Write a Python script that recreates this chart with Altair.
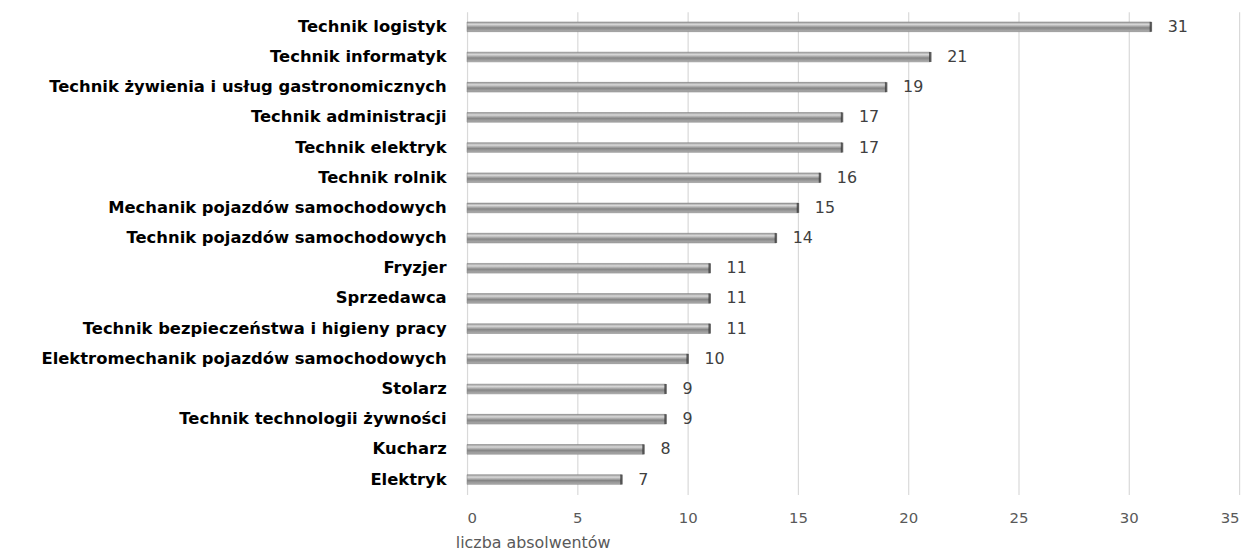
import altair as alt
import pandas as pd

categories = [
    "Technik logistyk",
    "Technik informatyk",
    "Technik żywienia i usług gastronomicznych",
    "Technik administracji ",
    "Technik elektryk",
    "Technik rolnik",
    "Mechanik pojazdów samochodowych",
    "Technik pojazdów samochodowych",
    "Fryzjer",
    "Sprzedawca",
    "Technik bezpieczeństwa i higieny pracy",
    "Elektromechanik pojazdów samochodowych",
    "Stolarz",
    "Technik technologii żywności",
    "Kucharz",
    "Elektryk",
]
values = [31, 21, 19, 17, 17, 16, 15, 14, 11, 11, 11, 10, 9, 9, 8, 7]
x_ticks = [0, 5, 10, 15, 20, 25, 30, 35]

df = pd.DataFrame({"zawod": categories, "liczba": values})

FONT = "DejaVu Sans"

y_enc = alt.Y("zawod:N", sort=categories, title=None,
              scale=alt.Scale(paddingInner=0.68, paddingOuter=0.34),
              axis=alt.Axis(labelFont=FONT, labelFontWeight="bold",
                            labelFontSize=16.5, labelColor="#000000",
                            labelLimit=600, labelPadding=21, ticks=False,
                            domain=False, grid=False))
x_enc = alt.X("liczba:Q", scale=alt.Scale(domain=[0, 35], nice=False),
              title="liczba absolwentów",
              axis=alt.Axis(values=x_ticks, labelOverlap=False, labelFont=FONT,
                            labelFontSize=15, labelColor="#595959",
                            labelPadding=16, ticks=False, domain=False,
                            grid=True, gridColor="#d9d9d9", gridWidth=1.2,
                            titleFont=FONT, titleFontSize=16,
                            titleFontWeight="normal", titleColor="#595959",
                            titleAnchor="start", titleAlign="center",
                            titleBaseline="alphabetic",
                            titleX=66, titleY=53))

grad = alt.Gradient(
    gradient="linear", x1=0, x2=0, y1=0, y2=1,
    stops=[
        alt.GradientStop(offset=0, color="#989898"),
        alt.GradientStop(offset=0.25, color="#d8d8d8"),
        alt.GradientStop(offset=0.6, color="#858585"),
        alt.GradientStop(offset=1, color="#b0b0b0"),
    ],
)

bars = alt.Chart(df).mark_bar(color=grad, stroke="#7a7a7a", strokeWidth=0.5).encode(
    x=x_enc, y=y_enc
)
caps = alt.Chart(df).mark_tick(color="#303030", thickness=2.5, orient="vertical", size=10).encode(
    x=alt.X("liczba:Q"), y=alt.Y("zawod:N", sort=categories)
)
labels = alt.Chart(df).mark_text(align="left", dx=17, font=FONT,
                                 fontSize=16, color="#404040").encode(
    x=alt.X("liczba:Q"), y=alt.Y("zawod:N", sort=categories), text="liczba:Q"
)

chart = (bars + caps + labels).properties(
    width=777, height=486,
    background="white",
    autosize=alt.AutoSizeParams(type="none"),
    padding={"left": 462, "top": 2, "right": 13, "bottom": 58},
).configure_view(stroke=None)

chart.save("out.html", embed_options={"renderer": "svg", "actions": False})
